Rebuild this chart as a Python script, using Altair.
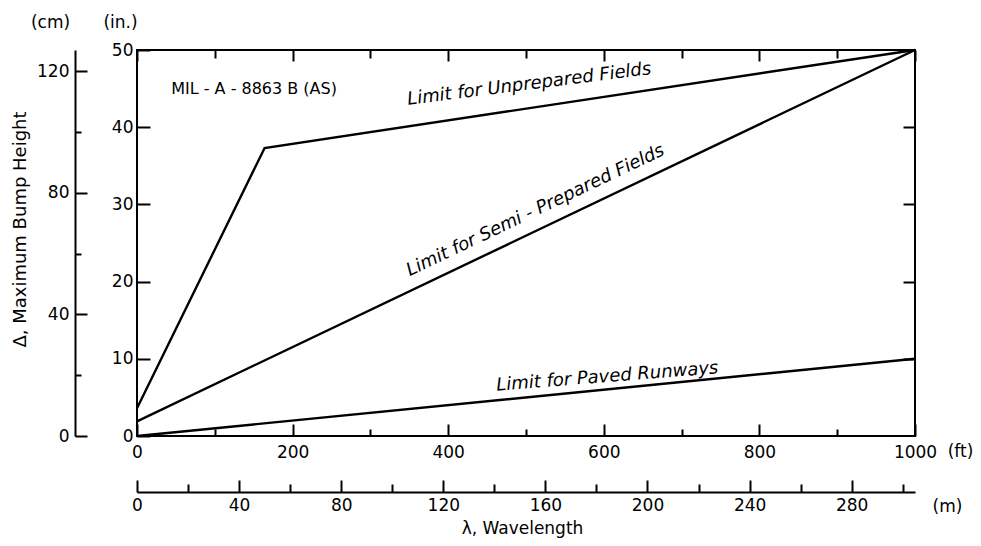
import altair as alt
import pandas as pd

FONT = "DejaVu Sans"

# ---- data ----
unprep_ft = [0, 164, 1000]
unprep_in = [3.6, 37.3, 50.0]
semi_ft = [0, 1000]
semi_in = [1.9, 50.0]
paved_ft = [0, 1000]
paved_in = [0.0, 10.0]

ft_major = [0, 200, 400, 600, 800, 1000]
ft_minor = [100, 300, 500, 700, 900]
in_major = [0, 10, 20, 30, 40, 50]
in_right = [10, 20, 30, 40]
cm_major = [0, 40, 80, 120]
cm_minor = [20, 60, 100]
m_major = [0, 40, 80, 120, 160, 200, 240, 280]
m_minor = [20, 60, 100, 140, 180, 220, 260, 300]

label_text = ["Limit for Unprepared Fields", "Limit for Semi - Prepared Fields", "Limit for Paved Runways"]
label_ft = [505, 515, 605]
label_in = [44.9, 28.6, 7.0]
label_angle = [352.8, 334.5, 355.5]

note_text = ["MIL - A - 8863 B (AS)"]
note_ft = [44]
note_in = [45.0]

FT_MAX = 1000
IN_MAX = 50
CM_MAX = IN_MAX * 2.54
M_MAX = FT_MAX * 0.3048

# ---- tables ----
df_lines = pd.DataFrame({
    "series": ["Unprepared"] * len(unprep_ft) + ["Semi"] * len(semi_ft) + ["Paved"] * len(paved_ft),
    "ft": unprep_ft + semi_ft + paved_ft,
    "inch": unprep_in + semi_in + paved_in,
})
df_labels = pd.DataFrame({"text": label_text, "ft": label_ft, "inch": label_in, "angle": label_angle})
df_note = pd.DataFrame({"text": note_text, "ft": note_ft, "inch": note_in})
df_cm_major = pd.DataFrame({"cm": cm_major})
df_cm_minor = pd.DataFrame({"cm": cm_minor})
df_m_major = pd.DataFrame({"m": m_major})
df_m_minor = pd.DataFrame({"m": m_minor})

xft = alt.Scale(domain=[0, FT_MAX], nice=False, zero=False)
yin = alt.Scale(domain=[0, IN_MAX], nice=False, zero=False)
ycm = alt.Scale(domain=[0, CM_MAX], nice=False, zero=False)
xm = alt.Scale(domain=[0, M_MAX], nice=False, zero=False)


def ax(**kw):
    base = dict(grid=False, labelFlush=False, labelOverlap=False, domain=False)
    base.update(kw)
    return alt.Axis(**base)


def ghost(df):
    return alt.Chart(df).mark_point(opacity=0, size=1)


lines = alt.Chart(df_lines).mark_line(color="black", strokeWidth=2.4).encode(
    x=alt.X("ft:Q", scale=xft, axis=ax(orient="bottom", values=ft_major, tickSize=12, offset=-12,
                                       labelPadding=8, format="d", title="(ft)", titleX=823, titleY=27,
                                       titleAngle=0, titleAlign="center", titleBaseline="middle")),
    y=alt.Y("inch:Q", scale=yin, axis=ax(orient="left", values=in_major, tickSize=13, offset=-13,
                                         labelPadding=4, format="d", title="(in.)", titleX=-30, titleY=-28,
                                         titleAngle=0, titleAlign="center", titleBaseline="middle")),
    detail="series:N",
)

bottom_minor = ghost(df_lines).encode(
    x=alt.X("ft:Q", scale=xft, axis=ax(orient="bottom", values=ft_minor, tickSize=7, offset=-7,
                                       labels=False, title=None)))
top_major = ghost(df_lines).encode(
    x=alt.X("ft:Q", scale=xft, axis=ax(orient="top", values=ft_major, tickSize=11, offset=-11,
                                       labels=False, title=None)))
top_minor = ghost(df_lines).encode(
    x=alt.X("ft:Q", scale=xft, axis=ax(orient="top", values=ft_minor, tickSize=8, offset=-8,
                                       labels=False, title=None)))
right_ticks = ghost(df_lines).encode(
    y=alt.Y("inch:Q", scale=yin, axis=ax(orient="right", values=in_right, tickSize=12, offset=-12,
                                         labels=False, title=None)))

cm_line = ghost(df_cm_major).encode(
    y=alt.Y("cm:Q", scale=ycm, axis=ax(orient="left", domain=True, ticks=False, labels=False, offset=62,
                                       title="Δ, Maximum Bump Height", titleX=-55, titleY=179,
                                       titleFontSize=18,
                                       titleAngle=270, titleAlign="center", titleBaseline="middle")))
cm_maj = ghost(df_cm_major).encode(
    y=alt.Y("cm:Q", scale=ycm, axis=ax(orient="left", values=cm_major, tickSize=12, offset=50,
                                       labelPadding=6, format="d", title="(cm)", titleX=-37, titleY=-28,
                                       titleAngle=0, titleAlign="center", titleBaseline="middle")))
cm_min = ghost(df_cm_minor).encode(
    y=alt.Y("cm:Q", scale=ycm, axis=ax(orient="left", values=cm_minor, tickSize=6, offset=56,
                                       labels=False, title=None)))

m_line = ghost(df_m_major).encode(
    x=alt.X("m:Q", scale=xm, axis=ax(orient="bottom", domain=True, ticks=False, labels=False, offset=56,
                                     title="λ, Wavelength", titleX=385, titleY=36,
                                     titleAngle=0, titleAlign="center", titleBaseline="middle")))
m_maj = ghost(df_m_major).encode(
    x=alt.X("m:Q", scale=xm, axis=ax(orient="bottom", values=m_major, tickSize=12, offset=44,
                                     labelPadding=5, format="d", title="(m)", titleX=810, titleY=26,
                                     titleAngle=0, titleAlign="center", titleBaseline="middle")))
m_min = ghost(df_m_minor).encode(
    x=alt.X("m:Q", scale=xm, axis=ax(orient="bottom", values=m_minor, tickSize=8, offset=48,
                                     labels=False, title=None)))

labels = alt.Chart(df_labels).mark_text(font=FONT, fontSize=18, fontStyle="italic", align="center",
                                        baseline="alphabetic", color="black").encode(
    x=alt.X("ft:Q", scale=xft, axis=None),
    y=alt.Y("inch:Q", scale=yin, axis=None),
    text="text:N",
    angle=alt.Angle("angle:Q", scale=None),
)

note = alt.Chart(df_note).mark_text(font=FONT, fontSize=16, align="left", baseline="middle",
                                    color="black").encode(
    x=alt.X("ft:Q", scale=xft, axis=None),
    y=alt.Y("inch:Q", scale=yin, axis=None),
    text="text:N",
)

chart = alt.layer(
    lines, bottom_minor, top_major, top_minor, right_ticks,
    cm_line, cm_maj, cm_min, m_line, m_maj, m_min, labels, note,
).resolve_scale(x="independent", y="independent").resolve_axis(
    x="independent", y="independent"
).properties(
    width=778, height=386,
    autosize=alt.AutoSizeParams(type="none"),
    padding={"left": 129, "top": 42, "right": 58, "bottom": 102},
).configure_view(stroke="black", strokeWidth=2).configure_axis(
    labelFont=FONT, titleFont=FONT, labelFontSize=17, titleFontSize=17, titleFontWeight="normal",
    labelColor="black", titleColor="black", tickColor="black", domainColor="black",
    tickWidth=2, domainWidth=2,
)

chart.save("out.html", embed_options={"renderer": "svg", "actions": False})
